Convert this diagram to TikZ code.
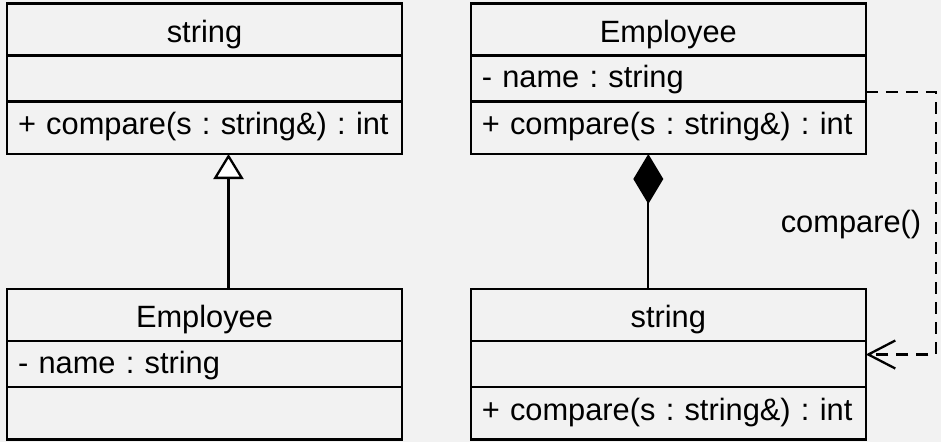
\documentclass[tikz,border=0pt]{standalone}
\usepackage{fontspec}
\setmainfont{Liberation Sans}
\usetikzlibrary{arrows.meta}
\definecolor{bgcol}{HTML}{F2F2F2}
\begin{document}
\frenchspacing
\begin{tikzpicture}[x=1pt,y=-1pt,
  umlfont/.style={font=\fontsize{30.8pt}{36pt}\selectfont\frenchspacing},
  part/.style={draw, line width=2.3pt, minimum width=395pt, inner ysep=0pt, outer sep=0pt, anchor=north, umlfont, text depth=0pt},
  titlepart/.style={part, minimum height=52pt, inner xsep=0pt, text height=25pt},
  attrpart/.style={part, minimum height=46pt, inner xsep=11pt, text width=373pt, align=left, text height=18.6pt},
  methpart/.style={part, minimum height=52.5pt, inner xsep=11pt, text width=373pt, align=left, text height=14pt},
  conn/.style={line width=2.3pt},
  dashconn/.style={line width=2.3pt, dash pattern=on 12pt off 8pt}
]
\fill[bgcol] (0,0) rectangle (941,442);
\useasboundingbox (0,0) rectangle (941,442);

% Left top: string
\node[titlepart] (LTt) at (204.5,3.5) {string};
\node[attrpart] (LTa) at (LTt.south) {};
\node[methpart] (LTm) at (LTa.south) {+ compare(s : string\&) : int};

% Left bottom: Employee
\node[titlepart] (LBt) at (204.5,289) {Employee};
\node[attrpart] (LBa) at (LBt.south) {- name : string};
\node[methpart] (LBm) at (LBa.south) {};

% Right top: Employee
\node[titlepart] (RTt) at (668.3,3.5) {Employee};
\node[attrpart] (RTa) at (RTt.south) {- name : string};
\node[methpart] (RTm) at (RTa.south) {+ compare(s : string\&) : int};

% Right bottom: string
\node[titlepart] (RBt) at (668.3,289) {string};
\node[attrpart] (RBa) at (RBt.south) {};
\node[methpart] (RBm) at (RBa.south) {+ compare(s : string\&) : int};

% inheritance
\draw[conn, -{Triangle[open, length=25pt, width=30pt, line width=2.3pt, fill=white]}]
  ([xshift=24pt]LBt.north) -- ([xshift=24pt]LTm.south);

% composition
\draw[conn, {Diamond[length=50pt, width=30pt]}-]
  ([xshift=-20pt]RTm.south) -- ([xshift=-20pt]RBt.north);

% dependency
\draw[dashconn, -{Straight Barb[length=27pt, width=28pt, line width=2.3pt]}]
  ([yshift=-13.5pt]RTa.east) -- ++(70,0) |- ([yshift=9.5pt]RBa.east);
\node[umlfont, inner sep=0pt] (lbl) at (851,225) {compare()};
\end{tikzpicture}
\end{document}
